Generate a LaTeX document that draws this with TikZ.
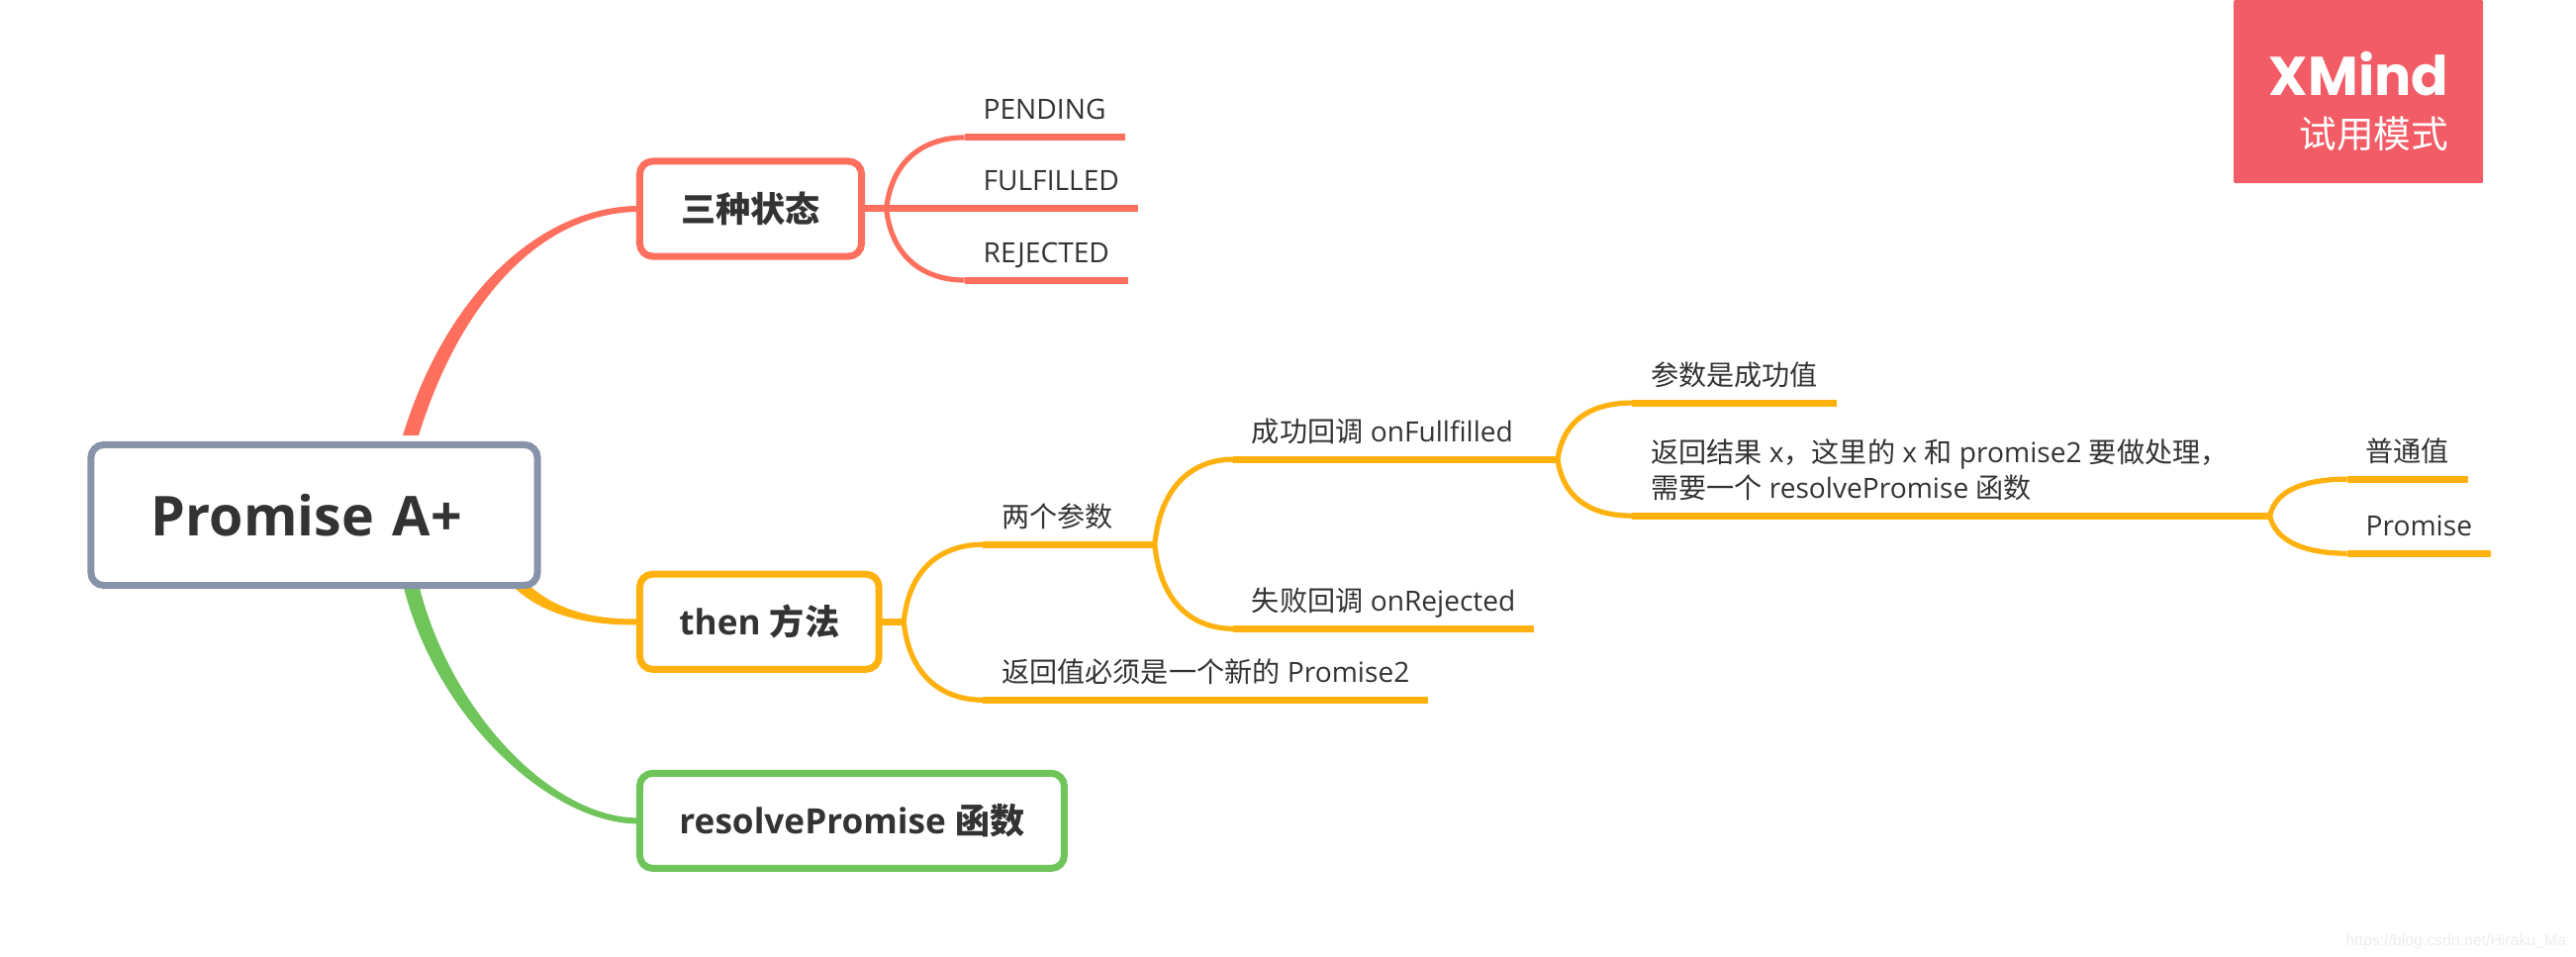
\documentclass[tikz,border=0pt]{standalone}
\usepackage{fontspec}
\setmainfont{Open Sans}
\newfontfamily\cjk{Noto Sans CJK SC}
\newfontfamily\brandfont{Poppins}
\newfontfamily\urlfont{Liberation Sans}
\usetikzlibrary{positioning,backgrounds,calc}
\definecolor{ink}{HTML}{333333}
\definecolor{slate}{HTML}{8793A8}
\definecolor{coral}{HTML}{FF6F5E}
\definecolor{amber}{HTML}{FFB20F}
\definecolor{leaf}{HTML}{6FC45A}
\definecolor{badge}{HTML}{F25C66}
\definecolor{faint}{HTML}{EDEDED}
\tikzset{
  every node/.style={outer sep=0pt, text=ink},
  rootbox/.style={rectangle, rounded corners=0.13cm, draw=slate, fill=white, line width=0.07cm,
                  inner xsep=0.61cm, text width=3.29cm, align=left, minimum height=1.42cm,
                  font=\fontsize{15.8}{19}\selectfont\bfseries},
  topicbox/.style={rectangle, rounded corners=0.13cm, draw=#1, fill=white, line width=0.07cm,
                   inner xsep=0.4cm, minimum height=0.96cm, font=\fontsize{10}{12}\selectfont\bfseries},
  twig/.style={rectangle, anchor=south west, align=left, inner xsep=0.19cm, inner ysep=0.12cm,
               text height=0.22cm, text depth=0.06cm, font=\fontsize{8}{10.2}\selectfont},
  bough/.style={line width=0.07cm, draw=#1},
  fork/.style={line width=0.052cm, draw=#1}
}
\newcommand{\taperline}[6]{
  \fill[#1] ($#2+(-8,0)$) .. controls ($#3+(-7,-4*#6)$) and ($#4+(0,-3*#6)$) .. ($#5+(0,-3*#6)$)
    -- ($#5+(0,3*#6)$) .. controls ($#4+(0,3*#6)$) and ($#3+(7,4*#6)$) .. ($#2+(8,0)$) -- cycle;
}
\begin{document}
\begin{tikzpicture}[x=0.01cm,y=-0.01cm]
\useasboundingbox (0,0) rectangle (2603,967);
\node[rootbox, minimum width=4.51cm] (root) at (317.5,520.5) {Promise A+};
\node[topicbox=coral, minimum width=2.24cm] (states) at (758.5,211) {{\cjk 三种状态}};
\node[topicbox=amber, below=3.21cm of states.south west, anchor=north west] (thenbox) {then {\cjk 方法}};
\node[topicbox=leaf, below=1.05cm of thenbox.south west, anchor=north west] (resolvebox) {resolvePromise {\cjk 函数}};

\coordinate[right=0.25cm of states] (statefork);
\node[twig, right=0.79cm of statefork, anchor=south west] (fulfilled) {FULFILLED};
\node[twig, above=0.72cm of fulfilled.south west, anchor=south west] (pending) {PENDING};
\node[twig, below=0.72cm of fulfilled.south west, anchor=south west] (rejected) {REJECTED};

\coordinate[right=0.25cm of thenbox] (thenfork);
\node[twig, above right=0.78cm and 0.8cm of thenfork, anchor=south west] (params) {{\cjk 两个参数}};
\node[twig, below right=0.79cm and 0.8cm of thenfork, anchor=south west] (newpromise) {{\cjk 返回值必须是一个新的} Promise2};

\coordinate[right=0.23cm of params.south east] (paramfork);
\node[twig, above right=0.86cm and 0.79cm of paramfork, anchor=south west] (success) {{\cjk 成功回调} onFullfilled};
\node[twig, below right=0.85cm and 0.79cm of paramfork, anchor=south west] (failure) {{\cjk 失败回调} onRejected};

\coordinate[right=0.26cm of success.south east] (successfork);
\node[twig, above right=0.57cm and 0.75cm of successfork, anchor=south west] (value) {{\cjk 参数是成功值}};
\node[twig, below right=0.57cm and 0.75cm of successfork, anchor=south west, text height=0.58cm] (result)
  {{\cjk 返回结果} x{\cjk ，这里的} x {\cjk 和} promise2 {\cjk 要做处理，}\\{\cjk 需要一个} resolvePromise {\cjk 函数}};

\coordinate[right=0.23cm of result.south east] (resultfork);
\node[twig, above right=0.37cm and 0.78cm of resultfork, anchor=south west] (plain) {{\cjk 普通值}};
\node[twig, below right=0.38cm and 0.78cm of resultfork, anchor=south west] (promise) {Promise};

\node[rectangle, fill=badge, rounded corners=0.02cm, minimum width=2.52cm, minimum height=1.85cm, anchor=north west] (badgebox) at (2257,0) {};
\node[anchor=base east, text=white, inner sep=0pt, font=\brandfont\fontsize{15.7}{18}\selectfont\bfseries] (brand) at (2474,97) {XMind};
\node[below=0.2cm of brand.south east, anchor=north east, text=white, inner sep=0pt, font=\fontsize{10.7}{12}\selectfont] (trial) {{\cjk 试用模式}};
\node[anchor=base east, text=faint, inner sep=0pt, font=\urlfont\fontsize{4.5}{6}\selectfont] (watermark) at (2593,955) {https://blog.csdn.net/Hiraku\_Ma};

\begin{scope}[on background layer]
\coordinate (redroot) at (415,440);
\coordinate (amberroot) at (518,583);
\coordinate (greenroot) at (415,590);
\taperline{coral}{(redroot)}{(460,295)}{(550,211)}{(states.west)}{1}
\taperline{amber}{(amberroot)}{(545,615)}{(590,630)}{(thenbox.west)}{-1}
\taperline{leaf}{(greenroot)}{(448,725)}{(560,831)}{(resolvebox.west)}{-1}
\end{scope}

\draw[bough=coral] (states.east) -- (fulfilled.south west);
\draw[fork=coral] (statefork) .. controls +(6,-52) and +(-38,0) .. (pending.south west);
\draw[fork=coral] (statefork) .. controls +(6,52) and +(-38,0) .. (rejected.south west);
\foreach \twigname in {pending,fulfilled,rejected}
  \draw[bough=coral] (\twigname.south west) -- (\twigname.south east);

\draw[bough=amber] (thenbox.east) -- (thenfork);
\draw[fork=amber] (thenfork) .. controls +(6,-58) and +(-38,0) .. (params.south west);
\draw[fork=amber] (thenfork) .. controls +(6,58) and +(-38,0) .. (newpromise.south west);
\draw[bough=amber] (params.south east) -- (paramfork);
\draw[fork=amber] (paramfork) .. controls +(6,-62) and +(-38,0) .. (success.south west);
\draw[fork=amber] (paramfork) .. controls +(6,62) and +(-38,0) .. (failure.south west);
\draw[bough=amber] (success.south east) -- (successfork);
\draw[fork=amber] (successfork) .. controls +(6,-42) and +(-38,0) .. (value.south west);
\draw[fork=amber] (successfork) .. controls +(6,42) and +(-38,0) .. (result.south west);
\draw[bough=amber] (result.south east) -- (resultfork);
\draw[fork=amber] (resultfork) .. controls +(6,-28) and +(-38,0) .. (plain.south west);
\draw[fork=amber] (resultfork) .. controls +(6,28) and +(-38,0) .. (promise.south west);
\foreach \twigname in {params,newpromise,success,failure,value,result,plain,promise}
  \draw[bough=amber] (\twigname.south west) -- (\twigname.south east);
\end{tikzpicture}
\end{document}
